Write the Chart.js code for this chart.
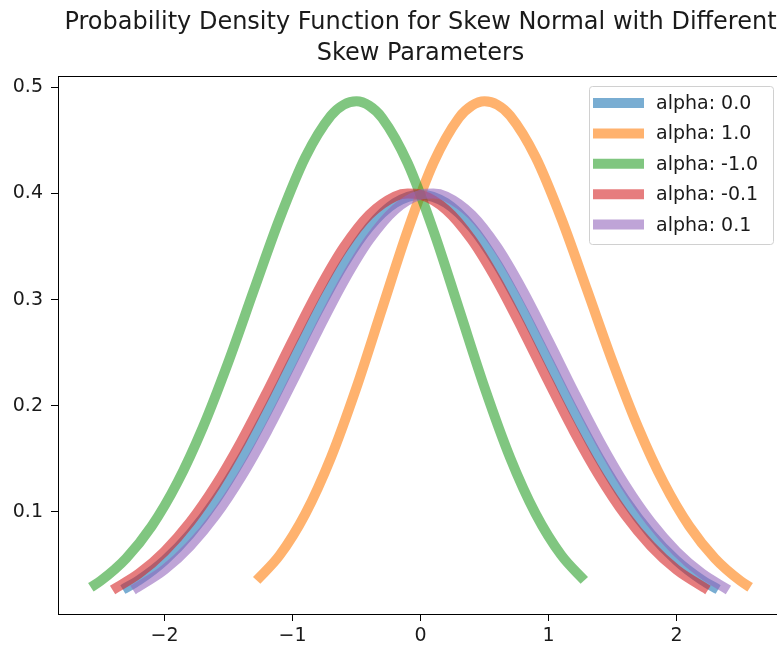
<!DOCTYPE html>
<html>
<head>
<meta charset="utf-8">
<script src="https://cdn.jsdelivr.net/npm/chart.js@4.4.1/dist/chart.umd.min.js"></script>
<style>
  html, body { margin: 0; padding: 0; background: #fff; overflow: hidden; }
  #wrap { width: 800px; height: 649px; }
</style>
</head>
<body>
<div id="wrap"><canvas id="pdfChart" width="800" height="649"></canvas></div>
<script>
// skew normal pdf curves, one x/y pair per skew value
var labels = ['alpha: 0.0', 'alpha: 1.0', 'alpha: -1.0', 'alpha: -0.1', 'alpha: 0.1'];

var xA0 = [-2.326, -2.2, -2.0, -1.8, -1.6, -1.4, -1.2, -1.0, -0.8, -0.6, -0.4, -0.2, 0,
           0.2, 0.4, 0.6, 0.8, 1.0, 1.2, 1.4, 1.6, 1.8, 2.0, 2.2, 2.326];
var yA0 = [0.0267, 0.0355, 0.0540, 0.0790, 0.1109, 0.1497, 0.1942, 0.2420, 0.2897, 0.3332, 0.3683, 0.3910, 0.3989,
           0.3910, 0.3683, 0.3332, 0.2897, 0.2420, 0.1942, 0.1497, 0.1109, 0.0790, 0.0540, 0.0355, 0.0267];

var xA1 = [-1.28, -1.1, -0.9, -0.7, -0.5, -0.3, -0.1, 0.1, 0.3, 0.4, 0.5, 0.6, 0.7,
           0.9, 1.1, 1.3, 1.5, 1.7, 1.9, 2.1, 2.3, 2.5, 2.576];
var yA1 = [0.0353, 0.0591, 0.0980, 0.1511, 0.2173, 0.2915, 0.3653, 0.4286, 0.4713, 0.4827, 0.4869, 0.4837, 0.4734,
           0.4342, 0.3766, 0.3096, 0.2417, 0.1797, 0.1275, 0.0864, 0.0561, 0.0348, 0.0288];

var xAm1 = [-2.576, -2.5, -2.3, -2.1, -1.9, -1.7, -1.5, -1.3, -1.1, -0.9, -0.7, -0.6, -0.5,
            -0.4, -0.3, -0.1, 0.1, 0.3, 0.5, 0.7, 0.9, 1.1, 1.28];
var yAm1 = [0.0288, 0.0348, 0.0561, 0.0864, 0.1275, 0.1797, 0.2417, 0.3096, 0.3766, 0.4342, 0.4734, 0.4837, 0.4869,
            0.4827, 0.4713, 0.4286, 0.3653, 0.2915, 0.2173, 0.1511, 0.0980, 0.0591, 0.0353];

var xAm01 = [-2.406, -2.2, -2.0, -1.8, -1.6, -1.4, -1.2, -1.0, -0.8, -0.6, -0.4, -0.2, -0.1, 0,
             0.2, 0.4, 0.6, 0.8, 1.0, 1.2, 1.4, 1.6, 1.8, 2.0, 2.246];
var yAm01 = [0.0263, 0.0417, 0.0626, 0.0902, 0.1250, 0.1664, 0.2127, 0.2612, 0.3082, 0.3492, 0.3800, 0.3973, 0.4001, 0.3989,
             0.3848, 0.3565, 0.3173, 0.2712, 0.2227, 0.1756, 0.1331, 0.0968, 0.0677, 0.0454, 0.0263];

var xA01 = [-2.246, -2.0, -1.8, -1.6, -1.4, -1.2, -1.0, -0.8, -0.6, -0.4, -0.2, 0, 0.1,
            0.2, 0.4, 0.6, 0.8, 1.0, 1.2, 1.4, 1.6, 1.8, 2.0, 2.2, 2.406];
var yA01 = [0.0263, 0.0454, 0.0677, 0.0968, 0.1331, 0.1756, 0.2227, 0.2712, 0.3173, 0.3565, 0.3848, 0.3989, 0.4001,
            0.3973, 0.3800, 0.3492, 0.3082, 0.2612, 0.2127, 0.1664, 0.1250, 0.0902, 0.0626, 0.0417, 0.0263];

var xTicks = [-2, -1, 0, 1, 2];
var yTicks = [0.1, 0.2, 0.3, 0.4, 0.5];

var colors = ['rgba(31,119,180,0.6)', 'rgba(255,127,14,0.6)', 'rgba(44,160,44,0.6)',
              'rgba(214,39,40,0.6)', 'rgba(148,103,189,0.6)'];
var xs = [xA0, xA1, xAm1, xAm01, xA01];
var ys = [yA0, yA1, yAm1, yAm01, yA01];

function toPoints(x, y) {
  var pts = [];
  for (var i = 0; i < x.length; i++) pts.push({x: x[i], y: y[i]});
  return pts;
}

var datasets = [];
for (var i = 0; i < labels.length; i++) {
  datasets.push({
    label: labels[i],
    data: toPoints(xs[i], ys[i]),
    borderColor: colors[i],
    backgroundColor: colors[i],
    borderWidth: 10,
    borderCapStyle: 'butt',
    showLine: true,
    pointRadius: 0,
    cubicInterpolationMode: 'monotone',
    order: -i   // later curves drawn on top
  });
}

var FONT = "'DejaVu Sans', sans-serif";

// full box around the plot plus the legend in its top-right corner
var frameAndLegend = {
  id: 'frameAndLegend',
  afterDraw: function(chart) {
    var ctx = chart.ctx, a = chart.chartArea;
    ctx.save();
    ctx.strokeStyle = '#000';
    ctx.lineWidth = 1;
    ctx.strokeRect(Math.round(a.left) + 0.5, Math.round(a.top) + 0.5,
                   Math.round(a.right - a.left), Math.round(a.bottom - a.top));

    var bx = 589, by = 86, bw = 184, bh = 158;
    ctx.beginPath();
    ctx.roundRect(bx + 0.5, by + 0.5, bw, bh, 3);
    ctx.fillStyle = 'rgba(255,255,255,0.8)';
    ctx.fill();
    ctx.strokeStyle = '#d0d0d0';
    ctx.stroke();

    ctx.font = '19px ' + FONT;
    ctx.textBaseline = 'middle';
    ctx.textAlign = 'left';
    chart.data.datasets.forEach(function(ds, k) {
      var cy = 103 + k * 30.4;
      ctx.beginPath();
      ctx.moveTo(593, cy);
      ctx.lineTo(644, cy);
      ctx.lineWidth = 10;
      ctx.lineCap = 'butt';
      ctx.strokeStyle = ds.borderColor;
      ctx.stroke();
      ctx.fillStyle = '#1a1a1a';
      ctx.fillText(ds.label, 656, cy + 1);
    });
    ctx.restore();
  }
};

var ctx = document.getElementById('pdfChart').getContext('2d');
var chart = new Chart(ctx, {
  type: 'scatter',
  data: { datasets: datasets },
  options: {
    responsive: false,
    animation: false,
    layout: { padding: { left: 0, right: 17, top: 0, bottom: 0 } },
    plugins: {
      legend: { display: false },
      tooltip: { enabled: false },
      title: {
        display: true,
        fullSize: false,
        text: ['Probability Density Function for Skew Normal with Different', 'Skew Parameters'],
        color: '#1a1a1a',
        font: { family: FONT, size: 24, weight: 'normal', lineHeight: 1.3 },
        padding: { top: 7, bottom: 6.6 }
      }
    },
    scales: {
      x: {
        type: 'linear',
        min: -2.8325,
        max: 2.8325,
        afterBuildTicks: function(axis) { axis.ticks = xTicks.map(function(v) { return {value: v}; }); },
        afterFit: function(axis) { axis.height = 35; },
        grid: { display: true, drawOnChartArea: false, drawTicks: true, tickLength: 7, color: '#000' },
        border: { display: true, color: '#000', width: 1 },
        ticks: {
          color: '#1a1a1a',
          font: { family: FONT, size: 19 },
          padding: 4,
          maxRotation: 0,
          callback: function(v) { return v < 0 ? '\u2212' + Math.abs(v) : String(v); }
        }
      },
      y: {
        type: 'linear',
        min: 0.0036,
        max: 0.5108,
        afterBuildTicks: function(axis) { axis.ticks = yTicks.map(function(v) { return {value: v}; }); },
        afterFit: function(axis) { axis.width = 58; },
        grid: { display: true, drawOnChartArea: false, drawTicks: true, tickLength: 7, color: '#000' },
        border: { display: true, color: '#000', width: 1 },
        ticks: {
          color: '#1a1a1a',
          font: { family: FONT, size: 19 },
          padding: 8,
          callback: function(v) { return v.toFixed(1); }
        }
      }
    }
  },
  plugins: [frameAndLegend]
});
</script>
</body>
</html>
